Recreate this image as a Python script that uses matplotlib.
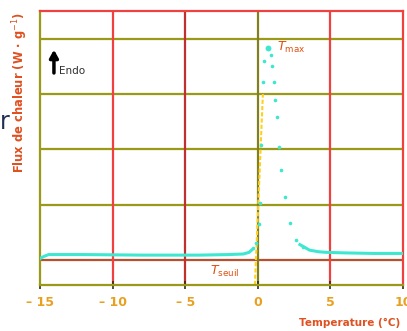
import matplotlib
matplotlib.use("Agg")
import matplotlib.pyplot as plt
import numpy as np

# Baseline (solid) segments
base_left_x = [-15.0, -14.7, -14.4, -12, -8, -4, -2, -1.0, -0.6, -0.43]
base_left_y = [0.03, 0.07, 0.10, 0.10, 0.09, 0.09, 0.10, 0.11, 0.14, 0.18]
# Peak region (dotted points)
peak_x = [-0.3, -0.09, 0.05, 0.14, 0.25, 0.36, 0.43, 0.71,
          0.94, 1.01, 1.12, 1.18, 1.32, 1.46, 1.62, 1.85, 2.19, 2.65, 3.1]
peak_y = [0.22, 0.31, 0.65, 1.03, 2.08, 3.21, 3.59, 3.83,
          3.71, 3.50, 3.21, 2.89, 2.59, 2.05, 1.63, 1.14, 0.67, 0.36, 0.24]
base_right_x = [2.9, 3.56, 4.2, 4.7, 6, 8, 10]
base_right_y = [0.28, 0.18, 0.15, 0.14, 0.13, 0.12, 0.12]

# Threshold (T_seuil) marker line
seuil_x = [-0.2, 0.35]
seuil_y = [-0.45, 3.0]

xticks = [-15, -10, -5, 0, 5, 10]
xtick_labels = ["– 15", "– 10", "– 5", "0", "5", "10"]
hgrid = [1, 2, 3, 4]

fig = plt.figure(figsize=(4.07, 3.31), dpi=100)
ax = fig.add_axes([40/407, 46/331, 363/407, 274/331])
ax.set_xlim(-15, 10)
ax.set_ylim(-0.45, 4.5)

olive = "#9a9a18"
red = "#f04040"
for y in hgrid:
    ax.axhline(y, color=olive, lw=1.6, zorder=1)
ax.axhline(0, color="#b85030", lw=1.6, zorder=1)
for x in [-10, -5, 5]:
    ax.axvline(x, color=red if x != -5 else "#c03030", lw=1.6, zorder=1)
ax.axvline(0, color="#808020", lw=1.6, zorder=1)

for s in ["top", "right"]:
    ax.spines[s].set_color(red)
    ax.spines[s].set_linewidth(1.6)
for s in ["left", "bottom"]:
    ax.spines[s].set_color(olive)
    ax.spines[s].set_linewidth(1.6)

ax.plot(seuil_x, seuil_y, color="#ffd020", lw=1.5, ls=(0, (2, 1)), zorder=2)
cyan = "#3ee8d0"
ax.plot(base_left_x, base_left_y, color=cyan, lw=2.2, zorder=3)
ax.plot(base_right_x, base_right_y, color=cyan, lw=2.2, zorder=3)
ax.plot(peak_x, peak_y, ls="none", marker="o", ms=1.6, color=cyan, zorder=3)
ax.plot([0.71], [3.83], ls="none", marker="o", ms=3.2, color=cyan, zorder=3)

ax.set_xticks(xticks)
ax.set_xticklabels(xtick_labels, color="#e8a020", fontsize=9, fontweight="bold")
ax.set_yticks([])
ax.tick_params(axis="x", direction="inout", length=6, width=1.2, color="#303010", pad=5)

fig.text(400/407, 1 - 323/331, "Temperature (°C)", color="#e05020", fontsize=7.5,
         fontweight="bold", ha="right", va="center")
ax.set_ylabel("Flux de chaleur (W · g$^{-1}$)", color="#e05020", fontsize=8.3, fontweight="bold")
ax.yaxis.set_label_coords(-0.027, 0.704)

ax.annotate("", xy=(-14.04, 3.85), xytext=(-14.04, 3.33),
            arrowprops=dict(arrowstyle="-|>,head_width=0.25,head_length=0.45", color="black", lw=2.5))
ax.text(-13.7, 3.42, "Endo", fontsize=7.5, color="#303030", va="center")
ax.text(1.3, 3.85, "$T_{\\mathrm{max}}$", fontsize=9, color="#e05010", va="center")
ax.text(-3.3, -0.21, "$T_{\\mathrm{seuil}}$", fontsize=9, color="#e05010", va="center")

fig.text(0.0, 1 - 122/331, "r", fontsize=17, color="#203050", va="center", ha="left")

fig.savefig("out.png", dpi=100)
